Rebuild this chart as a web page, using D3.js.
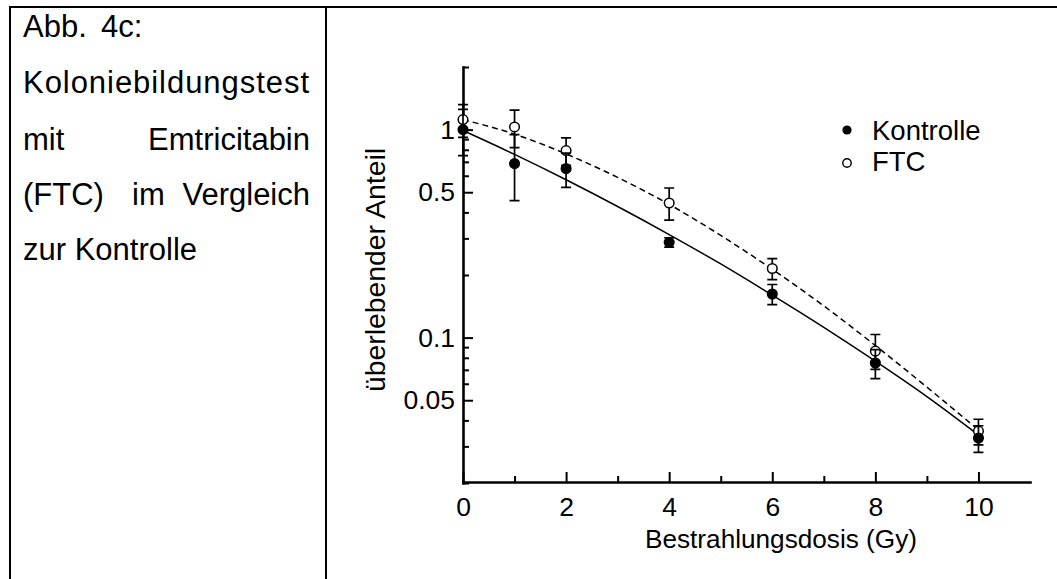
<!DOCTYPE html>
<html>
<head>
<meta charset="utf-8">
<script src="https://cdn.jsdelivr.net/npm/d3@7"></script>
<style>
  body { margin: 0; background: #fff; }
  svg { display: block; font-family: "Liberation Sans", Arial, sans-serif; }
</style>
</head>
<body>
<svg width="1057" height="579"></svg>
<script>
// measured doses and survival values
const doses = [0, 1, 2, 4, 6, 8, 10];
const kontrolleMean = [1.0, 0.686, 0.649, 0.287, 0.162, 0.0755, 0.0329];
const kontrolleLow  = [0.75, 0.456, 0.528, 0.272, 0.144, 0.0635, 0.0281];
const kontrolleHigh = [1.25, 0.945, 0.77, 0.302, 0.18, 0.0875, 0.0377];
const ftcMean = [1.117, 1.03, 0.793, 0.444, 0.215, 0.0861, 0.0355];
const ftcLow  = [0.917, 0.82, 0.674, 0.367, 0.19, 0.0703, 0.0305];
const ftcHigh = [1.32, 1.24, 0.912, 0.524, 0.24, 0.1035, 0.0405];

// fit curves
const fitDoses = [0, 1, 2, 3, 4, 5, 6, 7, 8, 9, 10];
const kontrolleFit = [0.99, 0.76, 0.574, 0.427, 0.313, 0.226, 0.16, 0.112, 0.077, 0.052, 0.034];
const ftcFit = [1.117, 0.951, 0.764, 0.589, 0.437, 0.31, 0.213, 0.142, 0.0916, 0.0578, 0.036];

// ticks
const xMajorTicks = [0, 2, 4, 6, 8, 10];
const xMinorTicks = [1, 3, 5, 7, 9];
const yMajorTicks = [0.05, 0.1, 0.5, 1];
const yMinorTicks = [0.02, 0.03, 0.04, 0.06, 0.07, 0.08, 0.09, 0.2, 0.3, 0.4, 0.6, 0.7, 0.8, 0.9, 2];

const svg = d3.select("svg");

// table frame + caption column
svg.append("line").attr("x1", 9).attr("x2", 1057).attr("y1", 7).attr("y2", 7)
  .attr("stroke", "#000").attr("stroke-width", 2);
svg.append("line").attr("x1", 10).attr("x2", 10).attr("y1", 6).attr("y2", 579)
  .attr("stroke", "#000").attr("stroke-width", 2);
svg.append("line").attr("x1", 326).attr("x2", 326).attr("y1", 6).attr("y2", 579)
  .attr("stroke", "#000").attr("stroke-width", 2);

const cap = svg.append("g").attr("font-size", 31).attr("fill", "#000");
cap.append("text").attr("x", 23).attr("y", 37).text("Abb.");
cap.append("text").attr("x", 101).attr("y", 37).text("4c:");
cap.append("text").attr("x", 23).attr("y", 93).attr("textLength", 286).attr("lengthAdjust", "spacing").text("Koloniebildungstest");
cap.append("text").attr("x", 23).attr("y", 150).text("mit");
cap.append("text").attr("x", 310).attr("y", 150).attr("text-anchor", "end").text("Emtricitabin");
cap.append("text").attr("x", 23).attr("y", 205).text("(FTC)");
cap.append("text").attr("x", 132).attr("y", 205).text("im");
cap.append("text").attr("x", 310).attr("y", 205).attr("text-anchor", "end").text("Vergleich");
cap.append("text").attr("x", 23).attr("y", 260).text("zur Kontrolle");

// scales
const x = d3.scaleLinear().domain([0, 11]).range([463, 1030]);
const y = d3.scaleLog().domain([0.02, 2]).range([483, 67]);

// axes (ticks pointing inward)
const gx = svg.append("g").attr("transform", "translate(0,482)");
gx.call(d3.axisBottom(x).tickValues(xMajorTicks).tickSizeInner(-10).tickSizeOuter(0).tickPadding(15));
const gxm = svg.append("g").attr("transform", "translate(0,482)");
gxm.call(d3.axisBottom(x).tickValues(xMinorTicks).tickSizeInner(-6).tickSizeOuter(0).tickFormat(""));
gxm.select(".domain").remove();

const gy = svg.append("g").attr("transform", "translate(463,0)");
gy.call(d3.axisLeft(y).tickValues(yMajorTicks).tickFormat(d => String(d)).tickSizeInner(-10).tickSizeOuter(0).tickPadding(8));
const gym = svg.append("g").attr("transform", "translate(463,0)");
gym.call(d3.axisLeft(y).tickValues(yMinorTicks).tickSizeInner(-6).tickSizeOuter(0).tickFormat(""));
gym.select(".domain").remove();

svg.selectAll(".domain").attr("stroke-width", 2.6).attr("stroke-linecap", "square");
svg.selectAll(".tick line").attr("stroke-width", 2);
svg.selectAll(".tick text").attr("font-size", 26.5).attr("font-family", "Liberation Sans, Arial, sans-serif").attr("fill", "#000");

// axis titles
svg.append("text").attr("x", 781).attr("y", 548).attr("text-anchor", "middle")
  .attr("font-size", 26).attr("textLength", 272).attr("lengthAdjust", "spacingAndGlyphs")
  .text("Bestrahlungsdosis (Gy)");
svg.append("text").attr("transform", "translate(385,270) rotate(-90)").attr("text-anchor", "middle")
  .attr("font-size", 27).attr("textLength", 244).attr("lengthAdjust", "spacingAndGlyphs")
  .text("überlebender Anteil");

// fit lines
const line = d3.line().x(d => x(d[0])).y(d => y(d[1])).curve(d3.curveMonotoneX);
svg.append("path").datum(d3.zip(fitDoses, ftcFit)).attr("d", line)
  .attr("fill", "none").attr("stroke", "#000").attr("stroke-width", 1.5).attr("stroke-dasharray", "6,4");
svg.append("path").datum(d3.zip(fitDoses, kontrolleFit)).attr("d", line)
  .attr("fill", "none").attr("stroke", "#000").attr("stroke-width", 1.5);

// error bars + markers
function drawSeries(mean, low, high, filled) {
  const data = doses.map((d, i) => ({ d: d, m: mean[i], lo: low[i], hi: high[i] }));
  const g = svg.append("g").attr("stroke", "#000").attr("stroke-width", 1.7);
  g.selectAll(".bar").data(data).enter().append("path")
    .attr("fill", "none")
    .attr("d", p => "M" + x(p.d) + "," + y(p.lo) + "V" + y(p.hi) +
      "M" + (x(p.d) - 5) + "," + y(p.hi) + "H" + (x(p.d) + 5) +
      "M" + (x(p.d) - 5) + "," + y(p.lo) + "H" + (x(p.d) + 5));
  g.selectAll("circle").data(data).enter().append("circle")
    .attr("cx", p => x(p.d)).attr("cy", p => y(p.m)).attr("r", 4.8)
    .attr("fill", filled ? "#000" : "#fff").attr("stroke-width", 1.5);
}
drawSeries(ftcMean, ftcLow, ftcHigh, false);
drawSeries(kontrolleMean, kontrolleLow, kontrolleHigh, true);

// legend
const legend = svg.append("g");
legend.append("circle").attr("cx", 847).attr("cy", 130).attr("r", 4.6).attr("fill", "#000");
legend.append("circle").attr("cx", 847).attr("cy", 163).attr("r", 4.2).attr("fill", "#fff")
  .attr("stroke", "#000").attr("stroke-width", 1.4);
legend.append("text").attr("x", 872).attr("y", 140).attr("font-size", 27.5).text("Kontrolle");
legend.append("text").attr("x", 872).attr("y", 171).attr("font-size", 27.5).text("FTC");
</script>
</body>
</html>
